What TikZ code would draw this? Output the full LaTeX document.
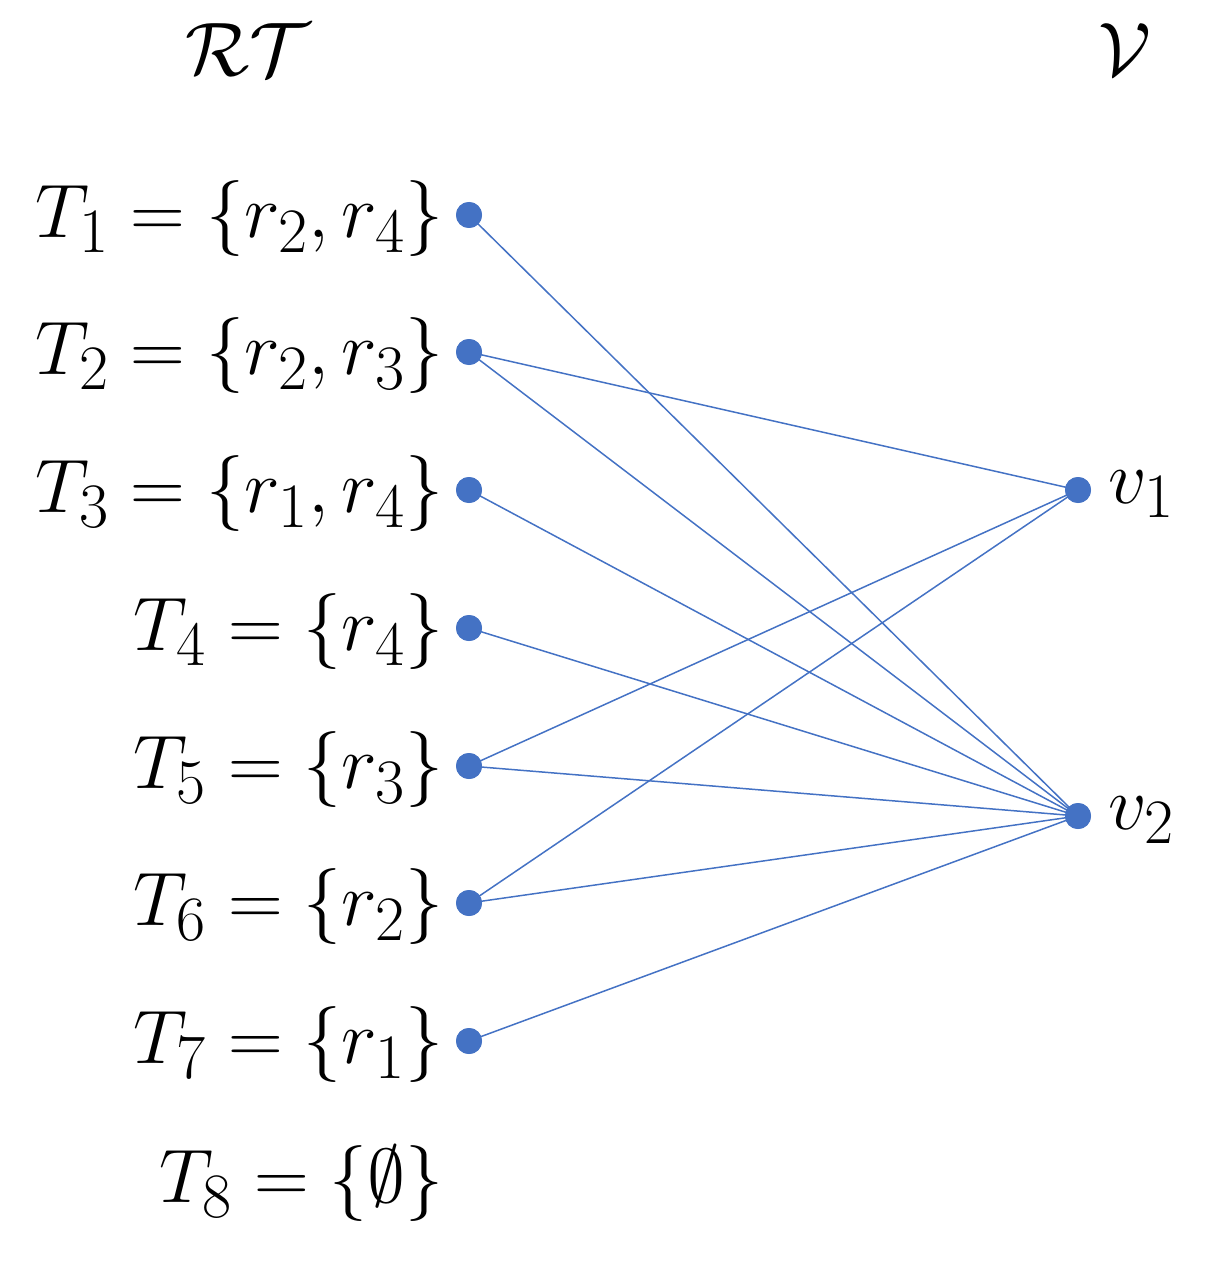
\documentclass[tikz,border=0pt]{standalone}
\usepackage{amsmath}
\usepackage{graphicx}
\definecolor{dotblue}{HTML}{4472C4}
\newcommand{\mylbl}[1]{\scalebox{3.05}{\Huge$#1$}}
\begin{document}
\begin{tikzpicture}[x=1pt,y=-1pt,
  dot/.style={circle,fill=dotblue,inner sep=0pt,minimum size=26pt},
  edge/.style={draw=dotblue,line width=1.5pt},
  lbl/.style={anchor=east,inner sep=0pt,yshift=-4pt},
  rlbl/.style={anchor=west,inner sep=0pt,yshift=-4pt},
  ttl/.style={inner sep=0pt}]
\useasboundingbox (0,0) rectangle (1205,1265);
% titles
\node[ttl] (tRT) at (248,50) {\mylbl{\mathcal{RT}}};
\node[ttl] (tV) at (1125,50) {\mylbl{\mathcal{V}}};
% left dots
\node[dot] (t1) at (469,215) {};
\node[dot] (t2) at (469,352) {};
\node[dot] (t3) at (469,490) {};
\node[dot] (t4) at (469,628) {};
\node[dot] (t5) at (469,766) {};
\node[dot] (t6) at (469,903) {};
\node[dot] (t7) at (469,1041) {};
% right dots
\node[dot] (v1) at (1078,490) {};
\node[dot] (v2) at (1078,816) {};
% labels
\node[lbl] (l1) at (444,215) {\mylbl{T_1=\{r_2,r_4\}}};
\node[lbl] (l2) at (444,352) {\mylbl{T_2=\{r_2,r_3\}}};
\node[lbl] (l3) at (444,490) {\mylbl{T_3=\{r_1,r_4\}}};
\node[lbl] (l4) at (444,628) {\mylbl{T_4=\{r_4\}}};
\node[lbl] (l5) at (444,766) {\mylbl{T_5=\{r_3\}}};
\node[lbl] (l6) at (444,903) {\mylbl{T_6=\{r_2\}}};
\node[lbl] (l7) at (444,1041) {\mylbl{T_7=\{r_1\}}};
\node[lbl] (l8) at (444,1180) {\mylbl{T_8=\{\emptyset\}}};
\node[rlbl] (lv1) at (1108,490) {\mylbl{v_1}};
\node[rlbl] (lv2) at (1108,816) {\mylbl{v_2}};
% edges
\draw[edge] (t1.center) -- (v2.center);
\draw[edge] (t2.center) -- (v1.center);
\draw[edge] (t2.center) -- (v2.center);
\draw[edge] (t3.center) -- (v2.center);
\draw[edge] (t4.center) -- (v2.center);
\draw[edge] (t5.center) -- (v1.center);
\draw[edge] (t5.center) -- (v2.center);
\draw[edge] (t6.center) -- (v1.center);
\draw[edge] (t6.center) -- (v2.center);
\draw[edge] (t7.center) -- (v2.center);
% redraw dots on top
\foreach \n in {t1,t2,t3,t4,t5,t6,t7,v1,v2} \fill[dotblue] (\n.center) circle (13pt);
\end{tikzpicture}
\end{document}
